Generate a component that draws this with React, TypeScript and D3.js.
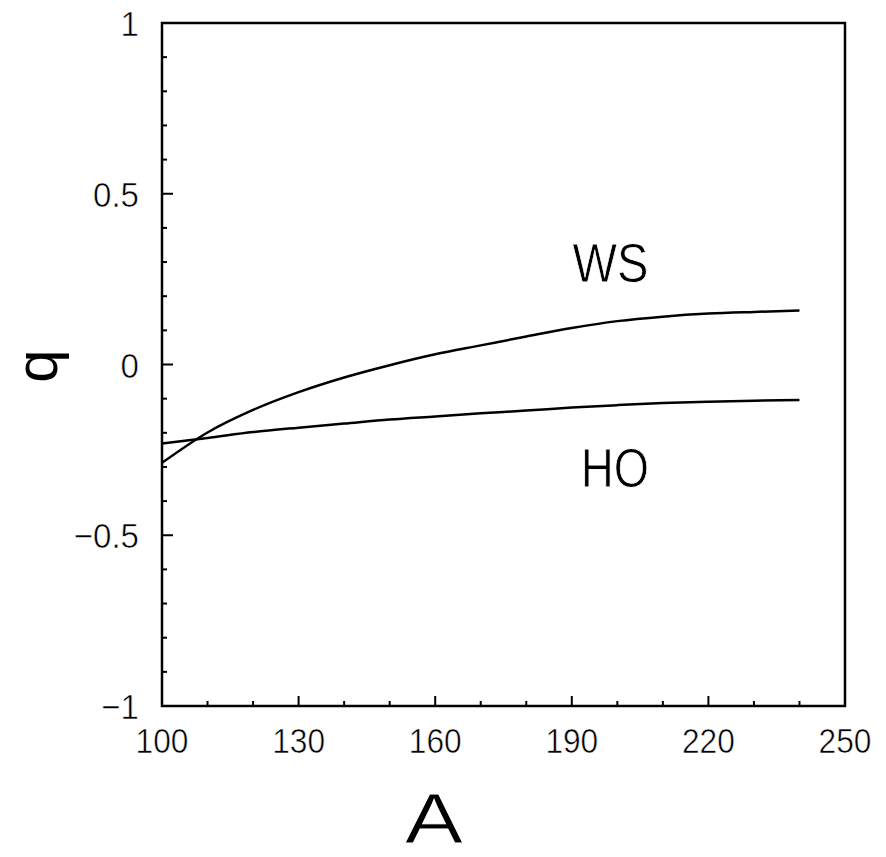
import React from "react";
import * as d3 from "d3";

// Mass number grid and the two deformation curves
const massNumbers = [100, 110, 120, 130, 140, 150, 160, 170, 180, 190, 200, 210, 220, 230, 240];
const wsValues = [-0.288, -0.199, -0.133, -0.081, -0.038, -0.002, 0.030, 0.056, 0.082, 0.107, 0.127, 0.140, 0.149, 0.154, 0.158];
const hoValues = [-0.231, -0.215, -0.198, -0.185, -0.173, -0.161, -0.152, -0.143, -0.135, -0.126, -0.119, -0.113, -0.109, -0.106, -0.104];

const xTickLabels = [100, 130, 160, 190, 220, 250];
const yTickLabels = [-1, -0.5, 0, 0.5, 1];
const curveLabels = [
  { text: "WS", a: 198.5, q: 0.242, width: 76 },
  { text: "HO", a: 199.5, q: -0.358, width: 68 },
];

const W = 886;
const H = 857;
const left = 162;
const right = 845;
const top = 23;
const bottom = 706;

export default function App() {
  const x = d3.scaleLinear().domain([100, 250]).range([left, right]);
  const y = d3.scaleLinear().domain([-1, 1]).range([bottom, top]);

  const line = d3
    .line<number>()
    .x((_, i) => x(massNumbers[i]))
    .y((d) => y(d))
    .curve(d3.curveMonotoneX);

  const xMinor = d3.range(100, 251, 10);
  const yMinor = d3.range(-10, 11).map((v) => v / 10);

  const font = "'Liberation Sans', Arial, sans-serif";
  const fmt = (v: number) => (v < 0 ? "\u2212" + String(Math.abs(v)) : String(v));

  return (
    <svg
      width={W}
      height={H}
      viewBox={`0 0 ${W} ${H}`}
      style={{ position: "absolute", left: 0, top: 0, background: "#fff" }}
    >
      {/* frame */}
      <rect
        x={left}
        y={top}
        width={right - left}
        height={bottom - top}
        fill="none"
        stroke="#000"
        strokeWidth={2.5}
      />

      {/* x ticks */}
      {xMinor.map((v) => {
        const major = (v - 100) % 30 === 0;
        return (
          <line
            key={`xt${v}`}
            x1={x(v)}
            x2={x(v)}
            y1={bottom}
            y2={bottom - (major ? 10 : 5)}
            stroke="#000"
            strokeWidth={2}
          />
        );
      })}
      {/* y ticks */}
      {yMinor.map((v) => {
        const major = Math.abs(Math.round(v * 10)) % 5 === 0;
        return (
          <line
            key={`yt${v}`}
            x1={left}
            x2={left + (major ? 11 : 5)}
            y1={y(v)}
            y2={y(v)}
            stroke="#000"
            strokeWidth={2}
          />
        );
      })}

      {/* x tick labels */}
      {xTickLabels.map((v) => (
        <text
          key={`xl${v}`}
          transform={`translate(${x(v)},753) scale(0.88,1)`}
          textAnchor="middle"
          fontFamily={font}
          fontSize={36}
          fill="#000"
          stroke="#fff"
          strokeWidth={0.6}
        >
          {v}
        </text>
      ))}
      {/* y tick labels */}
      {yTickLabels.map((v) => (
        <text
          key={`yl${v}`}
          transform={`translate(139,${y(v) + 13}) scale(0.92,1)`}
          textAnchor="end"
          fontFamily={font}
          fontSize={36}
          fill="#000"
          stroke="#fff"
          strokeWidth={0.6}
        >
          {fmt(v)}
        </text>
      ))}

      {/* curves */}
      <path d={line(wsValues) ?? ""} fill="none" stroke="#000" strokeWidth={2.5} />
      <path d={line(hoValues) ?? ""} fill="none" stroke="#000" strokeWidth={2.5} />

      {/* curve labels */}
      {curveLabels.map((c) => (
        <text
          key={c.text}
          x={x(c.a)}
          y={y(c.q)}
          textAnchor="middle"
          fontFamily={font}
          fontSize={55}
          textLength={c.width}
          lengthAdjust="spacingAndGlyphs"
          fill="#000"
          stroke="#fff"
          strokeWidth={0.8}
        >
          {c.text}
        </text>
      ))}

      {/* axis titles */}
      <text
        transform="translate(434,843) scale(1.25,1)"
        textAnchor="middle"
        fontFamily={font}
        fontSize={70}
        fill="#000"
        stroke="#fff"
        strokeWidth={1}
      >
        A
      </text>
      <text
        transform="translate(57,366) rotate(-90)"
        textAnchor="middle"
        fontFamily={font}
        fontSize={60}
        fill="#000"
      >
        q
      </text>
    </svg>
  );
}
